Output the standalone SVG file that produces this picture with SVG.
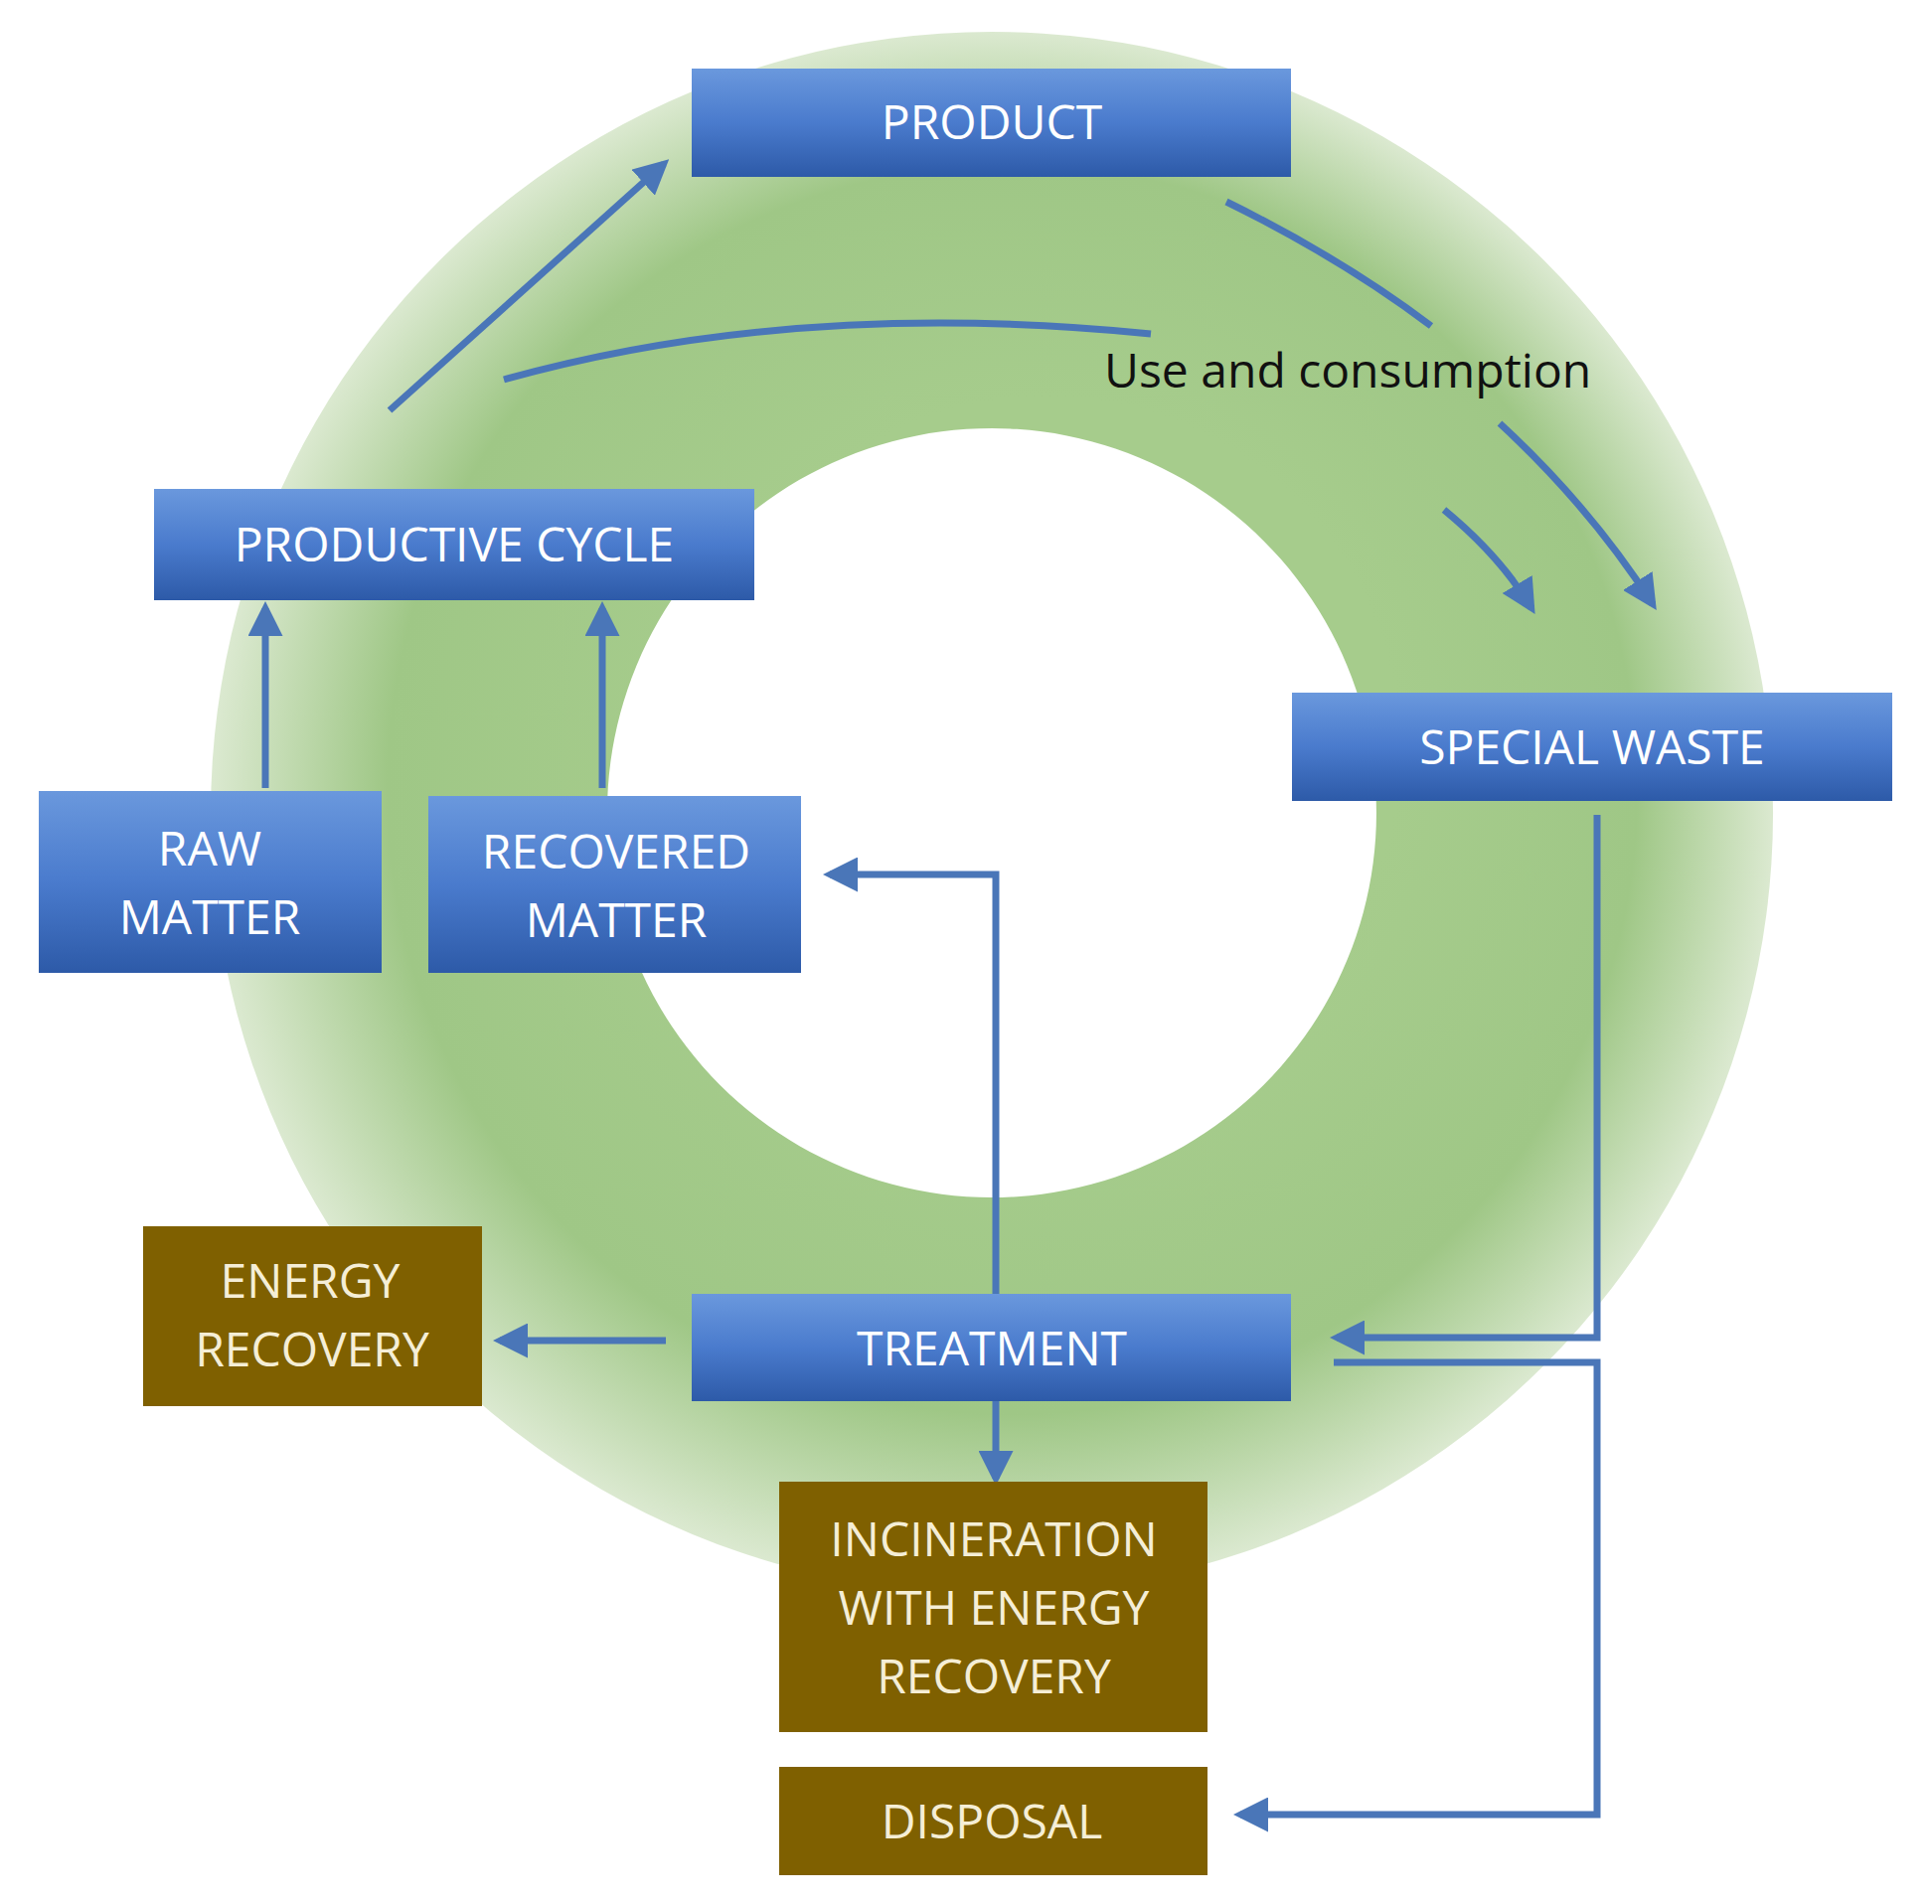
<svg xmlns="http://www.w3.org/2000/svg" width="1944" height="1916" viewBox="0 0 1944 1916">
<defs>
<radialGradient id="ring" cx="998" cy="818" r="786" gradientUnits="userSpaceOnUse" fx="1100" fy="700">
<stop offset="0.45" stop-color="#a6cc8c"/><stop offset="0.8" stop-color="#9fc786"/><stop offset="1" stop-color="#dbe9d0"/></radialGradient>
<linearGradient id="blue" x1="0" y1="0" x2="0" y2="1"><stop offset="0" stop-color="#6a98dd"/><stop offset="0.5" stop-color="#4a7bcd"/><stop offset="1" stop-color="#2d5aa8"/></linearGradient>
<marker id="ah" viewBox="0 0 10 10" refX="8" refY="5" markerWidth="5" markerHeight="5" orient="auto"><path d="M0,0 L10,5 L0,10 z" fill="#4a76b8"/></marker>
</defs>
<style>
.b{fill:url(#blue)}.br{fill:#7f6000}
.t{font-family:"Open Sans","Liberation Sans",sans-serif;font-size:48px;fill:#fff;text-anchor:middle}
.tb{fill:#f5eed6}
.c{fill:none;stroke:#4a76b8;stroke-width:7}
</style>
<rect width="1944" height="1916" fill="#fff"/>
<path d="M998,32 a786,786 0 1,0 0.1,0 z M998,431 a387,387 0 1,1 -0.1,0 z" fill="url(#ring)" fill-rule="evenodd"/>
<g id="connectors">
<line class="c" x1="392" y1="413" x2="668" y2="165" marker-end="url(#ah)"/>
<path class="c" d="M507,382 Q800,300 1158,336"/>
<path class="c" d="M1234,203 Q1350,260 1440,328"/>
<path class="c" d="M1509,426 Q1600,510 1663,608" marker-end="url(#ah)"/>
<path class="c" d="M1453,513 Q1510,560 1541,612" marker-end="url(#ah)"/>
<line class="c" x1="267" y1="793" x2="267" y2="612" marker-end="url(#ah)"/>
<line class="c" x1="606" y1="793" x2="606" y2="612" marker-end="url(#ah)"/>
<polyline class="c" points="1002,1302 1002,880 835,880" marker-end="url(#ah)"/>
<polyline class="c" points="1607,820 1607,1346 1345,1346" marker-end="url(#ah)"/>
<polyline class="c" points="1342,1371 1607,1371 1607,1826 1248,1826" marker-end="url(#ah)"/>
<line class="c" x1="670" y1="1349" x2="503" y2="1349" marker-end="url(#ah)"/>
<line class="c" x1="1002" y1="1410" x2="1002" y2="1488" marker-end="url(#ah)"/>
</g>
<text x="1111" y="390" font-family="'Open Sans','Liberation Sans',sans-serif" font-size="48" fill="#111">Use and consumption</text>
<g id="product"><rect class="b" x="696" y="69" width="603" height="109"/><text class="t" x="998" y="140">PRODUCT</text></g>
<g id="productive"><rect class="b" x="155" y="492" width="604" height="112"/><text class="t" x="457" y="565">PRODUCTIVE CYCLE</text></g>
<g id="special"><rect class="b" x="1300" y="697" width="604" height="109"/><text class="t" x="1602" y="769">SPECIAL WASTE</text></g>
<g id="raw"><rect class="b" x="39" y="796" width="345" height="183"/><text class="t" x="211" y="871">RAW</text><text class="t" x="211" y="940">MATTER</text></g>
<g id="recovered"><rect class="b" x="431" y="801" width="375" height="178"/><text class="t" x="620" y="874">RECOVERED</text><text class="t" x="620" y="943">MATTER</text></g>
<g id="treatment"><rect class="b" x="696" y="1302" width="603" height="108"/><text class="t" x="998" y="1374">TREATMENT</text></g>
<g id="energy"><rect class="br" x="144" y="1234" width="341" height="181"/><text class="t tb" x="312" y="1306">ENERGY</text><text class="t tb" x="314" y="1375">RECOVERY</text></g>
<g id="incineration"><rect class="br" x="784" y="1491" width="431" height="252"/><text class="t tb" x="1000" y="1566">INCINERATION</text><text class="t tb" x="1000" y="1635">WITH ENERGY</text><text class="t tb" x="1000" y="1704">RECOVERY</text></g>
<g id="disposal"><rect class="br" x="784" y="1778" width="431" height="109"/><text class="t tb" x="998" y="1850">DISPOSAL</text></g>
</svg>
